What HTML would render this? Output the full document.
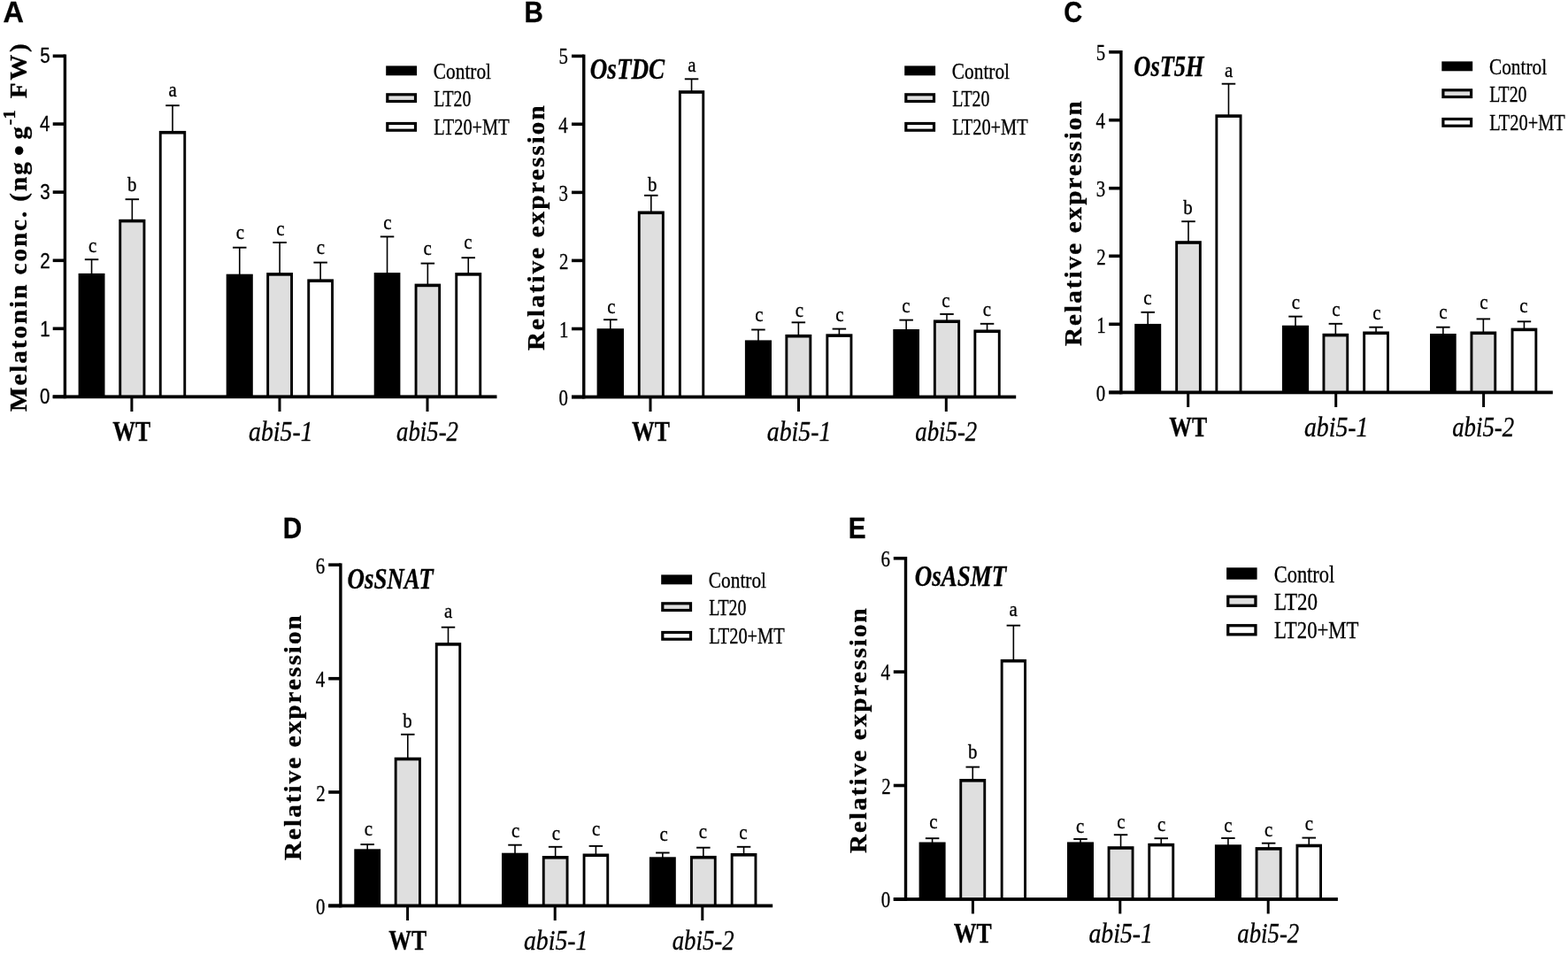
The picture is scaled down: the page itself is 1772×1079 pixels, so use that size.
<!DOCTYPE html>
<html><head><meta charset="utf-8"><title>Figure</title>
<style>html,body{margin:0;padding:0;background:#fff}svg{display:block}text{fill:#000;stroke:#000;stroke-width:0.3px;white-space:pre}</style>
</head><body>
<svg width="1772" height="1079" viewBox="0 0 1772 1079" shape-rendering="auto">
<rect x="0" y="0" width="1772" height="1079" fill="#fff"/>
<rect x="102.75" y="293.20" width="1.60" height="16.70" fill="#000"/>
<rect x="95.80" y="292.25" width="15.50" height="1.90" fill="#000"/>
<rect x="88.60" y="308.90" width="29.90" height="139.40" fill="#000"/>
<text transform="translate(100.06,284.60) scale(0.9300,1)" style="font-family:'Liberation Serif',serif;font-size:22.50px;">c</text>
<rect x="148.55" y="225.20" width="1.60" height="23.60" fill="#000"/>
<rect x="141.60" y="224.25" width="15.50" height="1.90" fill="#000"/>
<rect x="134.30" y="247.80" width="30.10" height="200.50" fill="#000"/>
<rect x="137.20" y="251.40" width="24.30" height="196.90" fill="#dfdfdf"/>
<text transform="translate(144.10,215.60) scale(0.9300,1)" style="font-family:'Liberation Serif',serif;font-size:22.50px;">b</text>
<rect x="194.20" y="119.20" width="1.60" height="29.70" fill="#000"/>
<rect x="187.25" y="118.25" width="15.50" height="1.90" fill="#000"/>
<rect x="179.80" y="147.90" width="30.40" height="300.40" fill="#000"/>
<rect x="182.70" y="151.50" width="24.60" height="296.80" fill="#fff"/>
<text transform="translate(190.50,109.40) scale(0.9300,1)" style="font-family:'Liberation Serif',serif;font-size:22.50px;">a</text>
<rect x="269.95" y="279.70" width="1.60" height="31.00" fill="#000"/>
<rect x="263.00" y="278.75" width="15.50" height="1.90" fill="#000"/>
<rect x="255.70" y="309.70" width="30.10" height="138.60" fill="#000"/>
<text transform="translate(266.86,269.80) scale(0.9300,1)" style="font-family:'Liberation Serif',serif;font-size:22.50px;">c</text>
<rect x="315.30" y="274.00" width="1.60" height="35.10" fill="#000"/>
<rect x="308.35" y="273.05" width="15.50" height="1.90" fill="#000"/>
<rect x="301.20" y="308.10" width="29.80" height="140.20" fill="#000"/>
<rect x="304.10" y="311.70" width="24.00" height="136.60" fill="#dfdfdf"/>
<text transform="translate(312.16,265.90) scale(0.9300,1)" style="font-family:'Liberation Serif',serif;font-size:22.50px;">c</text>
<rect x="361.35" y="296.60" width="1.60" height="19.80" fill="#000"/>
<rect x="354.40" y="295.65" width="15.50" height="1.90" fill="#000"/>
<rect x="347.30" y="315.40" width="29.70" height="132.90" fill="#000"/>
<rect x="350.20" y="319.00" width="23.90" height="129.30" fill="#fff"/>
<text transform="translate(357.66,287.00) scale(0.9300,1)" style="font-family:'Liberation Serif',serif;font-size:22.50px;">c</text>
<rect x="436.75" y="267.40" width="1.60" height="41.70" fill="#000"/>
<rect x="429.80" y="266.45" width="15.50" height="1.90" fill="#000"/>
<rect x="422.70" y="308.10" width="29.70" height="140.20" fill="#000"/>
<text transform="translate(433.26,259.20) scale(0.9300,1)" style="font-family:'Liberation Serif',serif;font-size:22.50px;">c</text>
<rect x="482.55" y="297.60" width="1.60" height="24.00" fill="#000"/>
<rect x="475.60" y="296.65" width="15.50" height="1.90" fill="#000"/>
<rect x="468.60" y="320.60" width="29.50" height="127.70" fill="#000"/>
<rect x="471.50" y="324.20" width="23.70" height="124.10" fill="#dfdfdf"/>
<text transform="translate(478.46,287.60) scale(0.9300,1)" style="font-family:'Liberation Serif',serif;font-size:22.50px;">c</text>
<rect x="528.45" y="291.20" width="1.60" height="17.90" fill="#000"/>
<rect x="521.50" y="290.25" width="15.50" height="1.90" fill="#000"/>
<rect x="514.30" y="308.10" width="29.90" height="140.20" fill="#000"/>
<rect x="517.20" y="311.70" width="24.10" height="136.60" fill="#fff"/>
<text transform="translate(524.26,281.30) scale(0.9300,1)" style="font-family:'Liberation Serif',serif;font-size:22.50px;">c</text>
<rect x="71.70" y="61.50" width="3.40" height="388.70" fill="#000"/>
<rect x="59.70" y="446.40" width="501.80" height="3.80" fill="#000"/>
<rect x="59.70" y="61.50" width="13.70" height="3.60" fill="#000"/>
<text transform="translate(45.21,71.41) scale(0.8700,1)" style="font-family:'Liberation Sans',sans-serif;font-size:23.60px;">5</text>
<rect x="59.70" y="138.30" width="13.70" height="3.60" fill="#000"/>
<text transform="translate(44.89,148.40) scale(0.8700,1)" style="font-family:'Liberation Sans',sans-serif;font-size:23.60px;">4</text>
<rect x="59.70" y="215.30" width="13.70" height="3.60" fill="#000"/>
<text transform="translate(45.21,225.21) scale(0.8700,1)" style="font-family:'Liberation Sans',sans-serif;font-size:23.60px;">3</text>
<rect x="59.70" y="292.50" width="13.70" height="3.60" fill="#000"/>
<text transform="translate(45.21,302.60) scale(0.8700,1)" style="font-family:'Liberation Sans',sans-serif;font-size:23.60px;">2</text>
<rect x="59.70" y="369.50" width="13.70" height="3.60" fill="#000"/>
<text transform="translate(45.21,379.60) scale(0.8700,1)" style="font-family:'Liberation Sans',sans-serif;font-size:23.60px;">1</text>
<rect x="59.70" y="446.50" width="13.70" height="3.60" fill="#000"/>
<text transform="translate(44.89,456.41) scale(0.8700,1)" style="font-family:'Liberation Sans',sans-serif;font-size:23.60px;">0</text>
<rect x="147.40" y="448.30" width="3.00" height="16.70" fill="#000"/>
<rect x="314.50" y="448.30" width="3.00" height="16.70" fill="#000"/>
<rect x="481.50" y="448.30" width="3.00" height="16.70" fill="#000"/>
<rect x="689.00" y="361.20" width="1.60" height="11.00" fill="#000"/>
<rect x="682.05" y="360.25" width="15.50" height="1.90" fill="#000"/>
<rect x="674.60" y="371.20" width="30.40" height="77.30" fill="#000"/>
<text transform="translate(686.36,353.50) scale(0.9300,1)" style="font-family:'Liberation Serif',serif;font-size:22.50px;">c</text>
<rect x="735.00" y="220.80" width="1.60" height="18.70" fill="#000"/>
<rect x="728.05" y="219.85" width="15.50" height="1.90" fill="#000"/>
<rect x="720.80" y="238.50" width="30.00" height="210.00" fill="#000"/>
<rect x="723.70" y="242.10" width="24.20" height="206.40" fill="#dfdfdf"/>
<text transform="translate(732.10,215.50) scale(0.9300,1)" style="font-family:'Liberation Serif',serif;font-size:22.50px;">b</text>
<rect x="780.75" y="89.30" width="1.60" height="13.90" fill="#000"/>
<rect x="773.80" y="88.35" width="15.50" height="1.90" fill="#000"/>
<rect x="766.90" y="102.20" width="29.30" height="346.30" fill="#000"/>
<rect x="769.80" y="105.80" width="23.50" height="342.70" fill="#fff"/>
<text transform="translate(777.20,80.70) scale(0.9300,1)" style="font-family:'Liberation Serif',serif;font-size:22.50px;">a</text>
<rect x="856.15" y="372.50" width="1.60" height="12.90" fill="#000"/>
<rect x="849.20" y="371.55" width="15.50" height="1.90" fill="#000"/>
<rect x="841.90" y="384.40" width="30.10" height="64.10" fill="#000"/>
<text transform="translate(853.16,362.90) scale(0.9300,1)" style="font-family:'Liberation Serif',serif;font-size:22.50px;">c</text>
<rect x="901.55" y="364.30" width="1.60" height="14.60" fill="#000"/>
<rect x="894.60" y="363.35" width="15.50" height="1.90" fill="#000"/>
<rect x="887.40" y="377.90" width="29.90" height="70.60" fill="#000"/>
<rect x="890.30" y="381.50" width="24.10" height="67.00" fill="#dfdfdf"/>
<text transform="translate(898.86,358.10) scale(0.9300,1)" style="font-family:'Liberation Serif',serif;font-size:22.50px;">c</text>
<rect x="947.60" y="371.60" width="1.60" height="6.70" fill="#000"/>
<rect x="940.65" y="370.65" width="15.50" height="1.90" fill="#000"/>
<rect x="933.40" y="377.30" width="30.00" height="71.20" fill="#000"/>
<rect x="936.30" y="380.90" width="24.20" height="67.60" fill="#fff"/>
<text transform="translate(944.16,362.60) scale(0.9300,1)" style="font-family:'Liberation Serif',serif;font-size:22.50px;">c</text>
<rect x="1023.35" y="361.60" width="1.60" height="11.40" fill="#000"/>
<rect x="1016.40" y="360.65" width="15.50" height="1.90" fill="#000"/>
<rect x="1009.30" y="372.00" width="29.70" height="76.50" fill="#000"/>
<text transform="translate(1019.36,353.30) scale(0.9300,1)" style="font-family:'Liberation Serif',serif;font-size:22.50px;">c</text>
<rect x="1069.20" y="354.90" width="1.60" height="7.50" fill="#000"/>
<rect x="1062.25" y="353.95" width="15.50" height="1.90" fill="#000"/>
<rect x="1054.90" y="361.40" width="30.20" height="87.10" fill="#000"/>
<rect x="1057.80" y="365.00" width="24.40" height="83.50" fill="#dfdfdf"/>
<text transform="translate(1064.26,347.20) scale(0.9300,1)" style="font-family:'Liberation Serif',serif;font-size:22.50px;">c</text>
<rect x="1114.75" y="365.80" width="1.60" height="7.70" fill="#000"/>
<rect x="1107.80" y="364.85" width="15.50" height="1.90" fill="#000"/>
<rect x="1100.40" y="372.50" width="30.30" height="76.00" fill="#000"/>
<rect x="1103.30" y="376.10" width="24.50" height="72.40" fill="#fff"/>
<text transform="translate(1110.66,357.20) scale(0.9300,1)" style="font-family:'Liberation Serif',serif;font-size:22.50px;">c</text>
<rect x="658.05" y="61.60" width="3.40" height="388.80" fill="#000"/>
<rect x="646.00" y="446.60" width="502.20" height="3.80" fill="#000"/>
<rect x="646.00" y="61.60" width="13.75" height="3.60" fill="#000"/>
<text transform="translate(631.60,72.47) scale(0.8200,1)" style="font-family:'Liberation Serif',serif;font-size:25.50px;">5</text>
<rect x="646.00" y="138.50" width="13.75" height="3.60" fill="#000"/>
<text transform="translate(631.27,149.77) scale(0.8200,1)" style="font-family:'Liberation Serif',serif;font-size:25.50px;">4</text>
<rect x="646.00" y="215.60" width="13.75" height="3.60" fill="#000"/>
<text transform="translate(631.60,226.67) scale(0.8200,1)" style="font-family:'Liberation Serif',serif;font-size:25.50px;">3</text>
<rect x="646.00" y="292.60" width="13.75" height="3.60" fill="#000"/>
<text transform="translate(631.93,303.87) scale(0.8200,1)" style="font-family:'Liberation Serif',serif;font-size:25.50px;">2</text>
<rect x="646.00" y="369.70" width="13.75" height="3.60" fill="#000"/>
<text transform="translate(631.93,380.97) scale(0.8200,1)" style="font-family:'Liberation Serif',serif;font-size:25.50px;">1</text>
<rect x="646.00" y="446.70" width="13.75" height="3.60" fill="#000"/>
<text transform="translate(631.60,457.77) scale(0.8200,1)" style="font-family:'Liberation Serif',serif;font-size:25.50px;">0</text>
<rect x="733.50" y="448.50" width="3.00" height="16.50" fill="#000"/>
<rect x="901.00" y="448.50" width="3.00" height="16.50" fill="#000"/>
<rect x="1067.80" y="448.50" width="3.00" height="16.50" fill="#000"/>
<rect x="1296.40" y="352.80" width="1.60" height="14.10" fill="#000"/>
<rect x="1289.45" y="351.85" width="15.50" height="1.90" fill="#000"/>
<rect x="1282.20" y="365.90" width="30.00" height="77.50" fill="#000"/>
<text transform="translate(1292.16,344.20) scale(0.9300,1)" style="font-family:'Liberation Serif',serif;font-size:22.50px;">c</text>
<rect x="1342.20" y="250.20" width="1.60" height="23.00" fill="#000"/>
<rect x="1335.25" y="249.25" width="15.50" height="1.90" fill="#000"/>
<rect x="1328.20" y="272.20" width="29.60" height="171.20" fill="#000"/>
<rect x="1331.10" y="275.80" width="23.80" height="167.60" fill="#dfdfdf"/>
<text transform="translate(1337.30,241.80) scale(0.9300,1)" style="font-family:'Liberation Serif',serif;font-size:22.50px;">b</text>
<rect x="1387.65" y="94.70" width="1.60" height="35.60" fill="#000"/>
<rect x="1380.70" y="93.75" width="15.50" height="1.90" fill="#000"/>
<rect x="1373.40" y="129.30" width="30.10" height="314.10" fill="#000"/>
<rect x="1376.30" y="132.90" width="24.30" height="310.50" fill="#fff"/>
<text transform="translate(1383.90,86.60) scale(0.9300,1)" style="font-family:'Liberation Serif',serif;font-size:22.50px;">a</text>
<rect x="1463.20" y="357.60" width="1.60" height="11.10" fill="#000"/>
<rect x="1456.25" y="356.65" width="15.50" height="1.90" fill="#000"/>
<rect x="1448.90" y="367.70" width="30.20" height="75.70" fill="#000"/>
<text transform="translate(1459.86,348.50) scale(0.9300,1)" style="font-family:'Liberation Serif',serif;font-size:22.50px;">c</text>
<rect x="1508.55" y="365.80" width="1.60" height="12.00" fill="#000"/>
<rect x="1501.60" y="364.85" width="15.50" height="1.90" fill="#000"/>
<rect x="1494.50" y="376.80" width="29.70" height="66.60" fill="#000"/>
<rect x="1497.40" y="380.40" width="23.90" height="63.00" fill="#dfdfdf"/>
<text transform="translate(1505.36,356.80) scale(0.9300,1)" style="font-family:'Liberation Serif',serif;font-size:22.50px;">c</text>
<rect x="1554.25" y="369.70" width="1.60" height="5.80" fill="#000"/>
<rect x="1547.30" y="368.75" width="15.50" height="1.90" fill="#000"/>
<rect x="1540.20" y="374.50" width="29.70" height="68.90" fill="#000"/>
<rect x="1543.10" y="378.10" width="23.90" height="65.30" fill="#fff"/>
<text transform="translate(1551.26,360.60) scale(0.9300,1)" style="font-family:'Liberation Serif',serif;font-size:22.50px;">c</text>
<rect x="1630.05" y="369.70" width="1.60" height="8.30" fill="#000"/>
<rect x="1623.10" y="368.75" width="15.50" height="1.90" fill="#000"/>
<rect x="1616.00" y="377.00" width="29.70" height="66.40" fill="#000"/>
<text transform="translate(1626.36,359.50) scale(0.9300,1)" style="font-family:'Liberation Serif',serif;font-size:22.50px;">c</text>
<rect x="1675.55" y="360.40" width="1.60" height="15.10" fill="#000"/>
<rect x="1668.60" y="359.45" width="15.50" height="1.90" fill="#000"/>
<rect x="1661.50" y="374.50" width="29.70" height="68.90" fill="#000"/>
<rect x="1664.40" y="378.10" width="23.90" height="65.30" fill="#dfdfdf"/>
<text transform="translate(1672.36,348.50) scale(0.9300,1)" style="font-family:'Liberation Serif',serif;font-size:22.50px;">c</text>
<rect x="1721.65" y="363.30" width="1.60" height="8.30" fill="#000"/>
<rect x="1714.70" y="362.35" width="15.50" height="1.90" fill="#000"/>
<rect x="1707.60" y="370.60" width="29.70" height="72.80" fill="#000"/>
<rect x="1710.50" y="374.20" width="23.90" height="69.20" fill="#fff"/>
<text transform="translate(1717.36,353.30) scale(0.9300,1)" style="font-family:'Liberation Serif',serif;font-size:22.50px;">c</text>
<rect x="1265.20" y="57.00" width="3.40" height="388.30" fill="#000"/>
<rect x="1253.20" y="441.50" width="501.60" height="3.80" fill="#000"/>
<rect x="1253.20" y="57.00" width="13.70" height="3.60" fill="#000"/>
<text transform="translate(1238.80,67.77) scale(0.8200,1)" style="font-family:'Liberation Serif',serif;font-size:25.50px;">5</text>
<rect x="1253.20" y="133.90" width="13.70" height="3.60" fill="#000"/>
<text transform="translate(1238.47,145.07) scale(0.8200,1)" style="font-family:'Liberation Serif',serif;font-size:25.50px;">4</text>
<rect x="1253.20" y="210.90" width="13.70" height="3.60" fill="#000"/>
<text transform="translate(1238.80,221.87) scale(0.8200,1)" style="font-family:'Liberation Serif',serif;font-size:25.50px;">3</text>
<rect x="1253.20" y="287.50" width="13.70" height="3.60" fill="#000"/>
<text transform="translate(1239.13,298.67) scale(0.8200,1)" style="font-family:'Liberation Serif',serif;font-size:25.50px;">2</text>
<rect x="1253.20" y="364.50" width="13.70" height="3.60" fill="#000"/>
<text transform="translate(1239.13,375.67) scale(0.8200,1)" style="font-family:'Liberation Serif',serif;font-size:25.50px;">1</text>
<rect x="1253.20" y="441.60" width="13.70" height="3.60" fill="#000"/>
<text transform="translate(1238.80,452.57) scale(0.8200,1)" style="font-family:'Liberation Serif',serif;font-size:25.50px;">0</text>
<rect x="1341.20" y="443.40" width="3.00" height="16.60" fill="#000"/>
<rect x="1508.20" y="443.40" width="3.00" height="16.60" fill="#000"/>
<rect x="1675.10" y="443.40" width="3.00" height="16.60" fill="#000"/>
<rect x="414.40" y="954.10" width="1.60" height="6.20" fill="#000"/>
<rect x="407.45" y="953.15" width="15.50" height="1.90" fill="#000"/>
<rect x="400.30" y="959.30" width="29.80" height="64.10" fill="#000"/>
<text transform="translate(411.86,943.70) scale(0.9300,1)" style="font-family:'Liberation Serif',serif;font-size:22.50px;">c</text>
<rect x="460.00" y="829.80" width="1.60" height="26.90" fill="#000"/>
<rect x="453.05" y="828.85" width="15.50" height="1.90" fill="#000"/>
<rect x="445.70" y="855.70" width="30.20" height="167.70" fill="#000"/>
<rect x="448.60" y="859.30" width="24.40" height="164.10" fill="#dfdfdf"/>
<text transform="translate(455.30,821.60) scale(0.9300,1)" style="font-family:'Liberation Serif',serif;font-size:22.50px;">b</text>
<rect x="505.70" y="708.70" width="1.60" height="18.40" fill="#000"/>
<rect x="498.75" y="707.75" width="15.50" height="1.90" fill="#000"/>
<rect x="491.80" y="726.10" width="29.40" height="297.30" fill="#000"/>
<rect x="494.70" y="729.70" width="23.60" height="293.70" fill="#fff"/>
<text transform="translate(502.00,697.90) scale(0.9300,1)" style="font-family:'Liberation Serif',serif;font-size:22.50px;">a</text>
<rect x="581.20" y="954.70" width="1.60" height="10.00" fill="#000"/>
<rect x="574.25" y="953.75" width="15.50" height="1.90" fill="#000"/>
<rect x="567.00" y="963.70" width="30.00" height="59.70" fill="#000"/>
<text transform="translate(577.96,946.00) scale(0.9300,1)" style="font-family:'Liberation Serif',serif;font-size:22.50px;">c</text>
<rect x="626.85" y="956.80" width="1.60" height="11.20" fill="#000"/>
<rect x="619.90" y="955.85" width="15.50" height="1.90" fill="#000"/>
<rect x="612.80" y="967.00" width="29.70" height="56.40" fill="#000"/>
<rect x="615.70" y="970.60" width="23.90" height="52.80" fill="#dfdfdf"/>
<text transform="translate(623.66,948.70) scale(0.9300,1)" style="font-family:'Liberation Serif',serif;font-size:22.50px;">c</text>
<rect x="672.60" y="955.90" width="1.60" height="9.60" fill="#000"/>
<rect x="665.65" y="954.95" width="15.50" height="1.90" fill="#000"/>
<rect x="658.60" y="964.50" width="29.60" height="58.90" fill="#000"/>
<rect x="661.50" y="968.10" width="23.80" height="55.30" fill="#fff"/>
<text transform="translate(669.06,944.40) scale(0.9300,1)" style="font-family:'Liberation Serif',serif;font-size:22.50px;">c</text>
<rect x="748.05" y="963.50" width="1.60" height="5.80" fill="#000"/>
<rect x="741.10" y="962.55" width="15.50" height="1.90" fill="#000"/>
<rect x="733.90" y="968.30" width="29.90" height="55.10" fill="#000"/>
<text transform="translate(745.56,950.30) scale(0.9300,1)" style="font-family:'Liberation Serif',serif;font-size:22.50px;">c</text>
<rect x="794.05" y="957.70" width="1.60" height="10.20" fill="#000"/>
<rect x="787.10" y="956.75" width="15.50" height="1.90" fill="#000"/>
<rect x="780.00" y="966.90" width="29.70" height="56.50" fill="#000"/>
<rect x="782.90" y="970.50" width="23.90" height="52.90" fill="#dfdfdf"/>
<text transform="translate(789.66,947.20) scale(0.9300,1)" style="font-family:'Liberation Serif',serif;font-size:22.50px;">c</text>
<rect x="839.75" y="956.80" width="1.60" height="8.20" fill="#000"/>
<rect x="832.80" y="955.85" width="15.50" height="1.90" fill="#000"/>
<rect x="825.70" y="964.00" width="29.70" height="59.40" fill="#000"/>
<rect x="828.60" y="967.60" width="23.90" height="55.80" fill="#fff"/>
<text transform="translate(835.36,948.30) scale(0.9300,1)" style="font-family:'Liberation Serif',serif;font-size:22.50px;">c</text>
<rect x="383.20" y="636.40" width="3.40" height="388.90" fill="#000"/>
<rect x="371.20" y="1021.50" width="502.00" height="3.80" fill="#000"/>
<rect x="371.20" y="636.40" width="13.70" height="3.60" fill="#000"/>
<text transform="translate(356.67,647.57) scale(0.8200,1)" style="font-family:'Liberation Serif',serif;font-size:25.50px;">6</text>
<rect x="371.20" y="764.90" width="13.70" height="3.60" fill="#000"/>
<text transform="translate(356.67,776.27) scale(0.8200,1)" style="font-family:'Liberation Serif',serif;font-size:25.50px;">4</text>
<rect x="371.20" y="893.20" width="13.70" height="3.60" fill="#000"/>
<text transform="translate(357.33,904.57) scale(0.8200,1)" style="font-family:'Liberation Serif',serif;font-size:25.50px;">2</text>
<rect x="371.20" y="1021.60" width="13.70" height="3.60" fill="#000"/>
<text transform="translate(357.00,1032.77) scale(0.8200,1)" style="font-family:'Liberation Serif',serif;font-size:25.50px;">0</text>
<rect x="459.10" y="1023.40" width="3.00" height="16.60" fill="#000"/>
<rect x="625.70" y="1023.40" width="3.00" height="16.60" fill="#000"/>
<rect x="792.30" y="1023.40" width="3.00" height="16.60" fill="#000"/>
<rect x="1052.80" y="947.20" width="1.60" height="5.30" fill="#000"/>
<rect x="1045.85" y="946.25" width="15.50" height="1.90" fill="#000"/>
<rect x="1038.60" y="951.50" width="30.00" height="64.50" fill="#000"/>
<text transform="translate(1050.36,936.00) scale(0.9300,1)" style="font-family:'Liberation Serif',serif;font-size:22.50px;">c</text>
<rect x="1098.45" y="866.60" width="1.60" height="14.40" fill="#000"/>
<rect x="1091.50" y="865.65" width="15.50" height="1.90" fill="#000"/>
<rect x="1084.30" y="880.00" width="29.90" height="136.00" fill="#000"/>
<rect x="1087.20" y="883.60" width="24.10" height="132.40" fill="#dfdfdf"/>
<text transform="translate(1093.90,856.60) scale(0.9300,1)" style="font-family:'Liberation Serif',serif;font-size:22.50px;">b</text>
<rect x="1144.55" y="706.70" width="1.60" height="39.20" fill="#000"/>
<rect x="1137.60" y="705.75" width="15.50" height="1.90" fill="#000"/>
<rect x="1130.70" y="744.90" width="29.30" height="271.10" fill="#000"/>
<rect x="1133.60" y="748.50" width="23.50" height="267.50" fill="#fff"/>
<text transform="translate(1140.50,696.00) scale(0.9300,1)" style="font-family:'Liberation Serif',serif;font-size:22.50px;">a</text>
<rect x="1220.20" y="948.00" width="1.60" height="4.40" fill="#000"/>
<rect x="1213.25" y="947.05" width="15.50" height="1.90" fill="#000"/>
<rect x="1206.00" y="951.40" width="30.00" height="64.60" fill="#000"/>
<text transform="translate(1215.96,941.20) scale(0.9300,1)" style="font-family:'Liberation Serif',serif;font-size:22.50px;">c</text>
<rect x="1265.75" y="943.20" width="1.60" height="14.00" fill="#000"/>
<rect x="1258.80" y="942.25" width="15.50" height="1.90" fill="#000"/>
<rect x="1251.60" y="956.20" width="29.90" height="59.80" fill="#000"/>
<rect x="1254.50" y="959.80" width="24.10" height="56.20" fill="#dfdfdf"/>
<text transform="translate(1262.26,936.00) scale(0.9300,1)" style="font-family:'Liberation Serif',serif;font-size:22.50px;">c</text>
<rect x="1311.45" y="947.20" width="1.60" height="6.60" fill="#000"/>
<rect x="1304.50" y="946.25" width="15.50" height="1.90" fill="#000"/>
<rect x="1297.30" y="952.80" width="29.90" height="63.20" fill="#000"/>
<rect x="1300.20" y="956.40" width="24.10" height="59.60" fill="#fff"/>
<text transform="translate(1308.06,939.30) scale(0.9300,1)" style="font-family:'Liberation Serif',serif;font-size:22.50px;">c</text>
<rect x="1387.10" y="947.00" width="1.60" height="8.30" fill="#000"/>
<rect x="1380.15" y="946.05" width="15.50" height="1.90" fill="#000"/>
<rect x="1372.90" y="954.30" width="30.00" height="61.70" fill="#000"/>
<text transform="translate(1383.16,939.90) scale(0.9300,1)" style="font-family:'Liberation Serif',serif;font-size:22.50px;">c</text>
<rect x="1432.85" y="952.70" width="1.60" height="5.40" fill="#000"/>
<rect x="1425.90" y="951.75" width="15.50" height="1.90" fill="#000"/>
<rect x="1418.60" y="957.10" width="30.10" height="58.90" fill="#000"/>
<rect x="1421.50" y="960.70" width="24.30" height="55.30" fill="#dfdfdf"/>
<text transform="translate(1428.96,945.20) scale(0.9300,1)" style="font-family:'Liberation Serif',serif;font-size:22.50px;">c</text>
<rect x="1478.45" y="946.60" width="1.60" height="8.10" fill="#000"/>
<rect x="1471.50" y="945.65" width="15.50" height="1.90" fill="#000"/>
<rect x="1464.50" y="953.70" width="29.50" height="62.30" fill="#000"/>
<rect x="1467.40" y="957.30" width="23.70" height="58.70" fill="#fff"/>
<text transform="translate(1474.66,937.60) scale(0.9300,1)" style="font-family:'Liberation Serif',serif;font-size:22.50px;">c</text>
<rect x="1021.80" y="629.00" width="3.40" height="388.90" fill="#000"/>
<rect x="1009.80" y="1014.10" width="502.10" height="3.80" fill="#000"/>
<rect x="1009.80" y="629.00" width="13.70" height="3.60" fill="#000"/>
<text transform="translate(995.47,639.87) scale(0.8200,1)" style="font-family:'Liberation Serif',serif;font-size:25.50px;">6</text>
<rect x="1009.80" y="757.30" width="13.70" height="3.60" fill="#000"/>
<text transform="translate(995.47,768.37) scale(0.8200,1)" style="font-family:'Liberation Serif',serif;font-size:25.50px;">4</text>
<rect x="1009.80" y="885.70" width="13.70" height="3.60" fill="#000"/>
<text transform="translate(996.13,896.77) scale(0.8200,1)" style="font-family:'Liberation Serif',serif;font-size:25.50px;">2</text>
<rect x="1009.80" y="1014.20" width="13.70" height="3.60" fill="#000"/>
<text transform="translate(995.80,1025.07) scale(0.8200,1)" style="font-family:'Liberation Serif',serif;font-size:25.50px;">0</text>
<rect x="1097.90" y="1016.00" width="3.00" height="16.40" fill="#000"/>
<rect x="1264.30" y="1016.00" width="3.00" height="16.40" fill="#000"/>
<rect x="1431.70" y="1016.00" width="3.00" height="16.40" fill="#000"/>
<text transform="translate(3.59,24.60) scale(0.9889,1)" style="font-family:'Liberation Sans',sans-serif;font-size:32.80px;font-weight:bold">A</text>
<text transform="translate(592.55,24.50) scale(0.9024,1)" style="font-family:'Liberation Sans',sans-serif;font-size:32.80px;font-weight:bold">B</text>
<text transform="translate(1202.29,24.50) scale(0.8849,1)" style="font-family:'Liberation Sans',sans-serif;font-size:32.80px;font-weight:bold">C</text>
<text transform="translate(319.84,607.90) scale(0.9073,1)" style="font-family:'Liberation Sans',sans-serif;font-size:32.80px;font-weight:bold">D</text>
<text transform="translate(958.64,607.60) scale(0.9071,1)" style="font-family:'Liberation Sans',sans-serif;font-size:32.80px;font-weight:bold">E</text>
<rect x="436.20" y="74.40" width="34.90" height="10.90" fill="#000"/>
<text transform="translate(489.83,88.80) scale(0.8713,1)" style="font-family:'Liberation Serif',serif;font-size:24.50px;">Control</text>
<rect x="436.20" y="105.20" width="34.90" height="10.90" fill="#000"/>
<rect x="439.40" y="108.40" width="28.50" height="4.50" fill="#dfdfdf"/>
<text transform="translate(490.19,119.60) scale(0.8093,1)" style="font-family:'Liberation Serif',serif;font-size:24.50px;">LT20</text>
<rect x="436.20" y="137.90" width="34.90" height="10.90" fill="#000"/>
<rect x="439.40" y="141.10" width="28.50" height="4.50" fill="#fff"/>
<text transform="translate(490.18,151.70) scale(0.8326,1)" style="font-family:'Liberation Serif',serif;font-size:24.50px;">LT20+MT</text>
<rect x="1022.20" y="74.40" width="34.90" height="10.90" fill="#000"/>
<text transform="translate(1075.83,88.80) scale(0.8713,1)" style="font-family:'Liberation Serif',serif;font-size:24.50px;">Control</text>
<rect x="1022.20" y="105.20" width="34.90" height="10.90" fill="#000"/>
<rect x="1025.40" y="108.40" width="28.50" height="4.50" fill="#dfdfdf"/>
<text transform="translate(1076.19,119.60) scale(0.8093,1)" style="font-family:'Liberation Serif',serif;font-size:24.50px;">LT20</text>
<rect x="1022.20" y="137.90" width="34.90" height="10.90" fill="#000"/>
<rect x="1025.40" y="141.10" width="28.50" height="4.50" fill="#fff"/>
<text transform="translate(1076.18,151.70) scale(0.8326,1)" style="font-family:'Liberation Serif',serif;font-size:24.50px;">LT20+MT</text>
<rect x="1629.30" y="69.40" width="34.90" height="10.90" fill="#000"/>
<text transform="translate(1682.93,83.80) scale(0.8713,1)" style="font-family:'Liberation Serif',serif;font-size:24.50px;">Control</text>
<rect x="1629.30" y="100.20" width="34.90" height="10.90" fill="#000"/>
<rect x="1632.50" y="103.40" width="28.50" height="4.50" fill="#dfdfdf"/>
<text transform="translate(1683.29,114.60) scale(0.8093,1)" style="font-family:'Liberation Serif',serif;font-size:24.50px;">LT20</text>
<rect x="1629.30" y="132.90" width="34.90" height="10.90" fill="#000"/>
<rect x="1632.50" y="136.10" width="28.50" height="4.50" fill="#fff"/>
<text transform="translate(1683.28,146.70) scale(0.8326,1)" style="font-family:'Liberation Serif',serif;font-size:24.50px;">LT20+MT</text>
<rect x="747.20" y="649.40" width="34.90" height="10.90" fill="#000"/>
<text transform="translate(800.83,663.80) scale(0.8713,1)" style="font-family:'Liberation Serif',serif;font-size:24.50px;">Control</text>
<rect x="747.20" y="680.20" width="34.90" height="10.90" fill="#000"/>
<rect x="750.40" y="683.40" width="28.50" height="4.50" fill="#dfdfdf"/>
<text transform="translate(801.19,694.60) scale(0.8093,1)" style="font-family:'Liberation Serif',serif;font-size:24.50px;">LT20</text>
<rect x="747.20" y="712.90" width="34.90" height="10.90" fill="#000"/>
<rect x="750.40" y="716.10" width="28.50" height="4.50" fill="#fff"/>
<text transform="translate(801.18,726.70) scale(0.8326,1)" style="font-family:'Liberation Serif',serif;font-size:24.50px;">LT20+MT</text>
<rect x="1386.10" y="641.30" width="34.50" height="13.40" fill="#000"/>
<text transform="translate(1439.70,657.60) scale(0.8312,1)" style="font-family:'Liberation Serif',serif;font-size:27.00px;">Control</text>
<rect x="1386.10" y="672.50" width="34.50" height="13.40" fill="#000"/>
<rect x="1389.40" y="675.80" width="27.90" height="6.80" fill="#dfdfdf"/>
<text transform="translate(1440.04,688.70) scale(0.8535,1)" style="font-family:'Liberation Serif',serif;font-size:27.00px;">LT20</text>
<rect x="1386.10" y="705.10" width="34.50" height="13.40" fill="#000"/>
<rect x="1389.40" y="708.40" width="27.90" height="6.80" fill="#fff"/>
<text transform="translate(1440.04,721.30) scale(0.8433,1)" style="font-family:'Liberation Serif',serif;font-size:27.00px;">LT20+MT</text>
<text transform="translate(127.30,498.30) scale(0.8184,1)" style="font-family:'Liberation Serif',serif;font-size:31.50px;font-weight:bold">WT</text>
<text transform="translate(281.07,497.60) scale(0.8962,1)" style="font-family:'Liberation Serif',serif;font-size:31.00px;font-style:italic">abi5-1</text>
<text transform="translate(448.08,497.60) scale(0.8641,1)" style="font-family:'Liberation Serif',serif;font-size:31.00px;font-style:italic">abi5-2</text>
<text transform="translate(714.10,498.30) scale(0.8184,1)" style="font-family:'Liberation Serif',serif;font-size:31.50px;font-weight:bold">WT</text>
<text transform="translate(866.77,497.60) scale(0.8962,1)" style="font-family:'Liberation Serif',serif;font-size:31.00px;font-style:italic">abi5-1</text>
<text transform="translate(1034.28,497.60) scale(0.8641,1)" style="font-family:'Liberation Serif',serif;font-size:31.00px;font-style:italic">abi5-2</text>
<text transform="translate(1321.30,493.30) scale(0.8184,1)" style="font-family:'Liberation Serif',serif;font-size:31.50px;font-weight:bold">WT</text>
<text transform="translate(1473.97,492.60) scale(0.8962,1)" style="font-family:'Liberation Serif',serif;font-size:31.00px;font-style:italic">abi5-1</text>
<text transform="translate(1641.18,492.60) scale(0.8641,1)" style="font-family:'Liberation Serif',serif;font-size:31.00px;font-style:italic">abi5-2</text>
<text transform="translate(439.30,1073.30) scale(0.8184,1)" style="font-family:'Liberation Serif',serif;font-size:31.50px;font-weight:bold">WT</text>
<text transform="translate(591.97,1072.60) scale(0.8962,1)" style="font-family:'Liberation Serif',serif;font-size:31.00px;font-style:italic">abi5-1</text>
<text transform="translate(759.68,1072.60) scale(0.8641,1)" style="font-family:'Liberation Serif',serif;font-size:31.00px;font-style:italic">abi5-2</text>
<text transform="translate(1077.80,1065.30) scale(0.8184,1)" style="font-family:'Liberation Serif',serif;font-size:31.50px;font-weight:bold">WT</text>
<text transform="translate(1230.47,1064.60) scale(0.8962,1)" style="font-family:'Liberation Serif',serif;font-size:31.00px;font-style:italic">abi5-1</text>
<text transform="translate(1398.28,1064.60) scale(0.8641,1)" style="font-family:'Liberation Serif',serif;font-size:31.00px;font-style:italic">abi5-2</text>
<text transform="translate(666.75,88.90) scale(0.8219,1)" style="font-family:'Liberation Serif',serif;font-size:33.00px;font-weight:bold;font-style:italic">OsTDC</text>
<text transform="translate(1281.37,85.60) scale(0.8001,1)" style="font-family:'Liberation Serif',serif;font-size:33.00px;font-weight:bold;font-style:italic">OsT5H</text>
<text transform="translate(392.56,665.00) scale(0.8147,1)" style="font-family:'Liberation Serif',serif;font-size:33.00px;font-weight:bold;font-style:italic">OsSNAT</text>
<text transform="translate(1033.86,661.90) scale(0.8181,1)" style="font-family:'Liberation Serif',serif;font-size:33.00px;font-weight:bold;font-style:italic">OsASMT</text>
<text transform="translate(29.50,464.60) rotate(-90) scale(1.06,1)" style="font-family:'Liberation Serif',serif;font-size:27.50px;font-weight:bold"><tspan x="-0.43" y="0.00" style="font-size:27.50px;letter-spacing:1.829px">Melatonin conc. (ng</tspan><tspan x="271.99" y="3.50" style="font-size:32.87px;letter-spacing:0.000px">•</tspan><tspan x="289.76" y="0.00" style="font-size:27.50px;letter-spacing:0.000px">g</tspan><tspan x="305.07" y="-12.40" style="font-size:19.00px;letter-spacing:0.000px">-1</tspan><tspan x="324.14" y="0.00" style="font-size:27.50px;letter-spacing:2.427px"> FW)</tspan></text>
<text transform="translate(615.10,396.06) rotate(-90) scale(1.0600,1)" style="font-family:'Liberation Serif',serif;font-size:27.50px;font-weight:bold;letter-spacing:1.934px">Relative expression</text>
<text transform="translate(1222.30,391.06) rotate(-90) scale(1.0600,1)" style="font-family:'Liberation Serif',serif;font-size:27.50px;font-weight:bold;letter-spacing:1.934px">Relative expression</text>
<text transform="translate(340.20,972.06) rotate(-90) scale(1.0600,1)" style="font-family:'Liberation Serif',serif;font-size:27.50px;font-weight:bold;letter-spacing:1.940px">Relative expression</text>
<text transform="translate(979.00,964.06) rotate(-90) scale(1.0600,1)" style="font-family:'Liberation Serif',serif;font-size:27.50px;font-weight:bold;letter-spacing:1.940px">Relative expression</text>
</svg>
</body></html>
